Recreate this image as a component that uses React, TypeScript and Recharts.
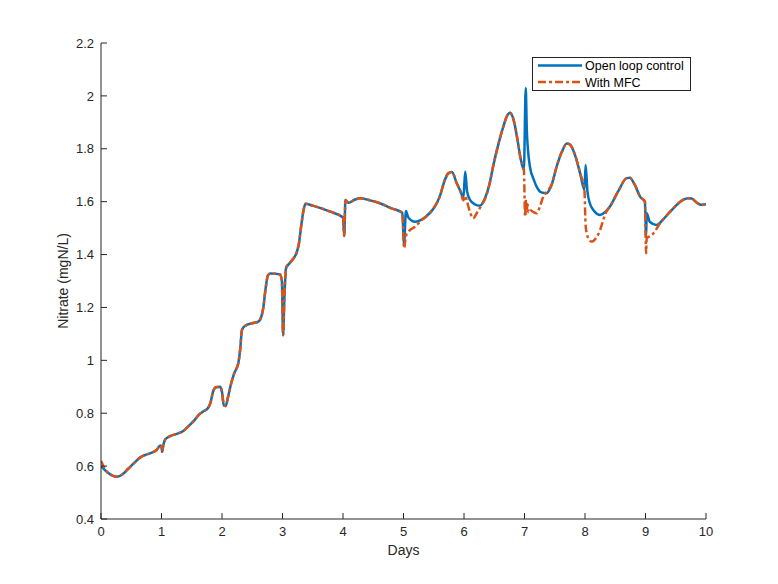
import { CartesianGrid, Label, Legend, Line, LineChart, XAxis, YAxis } from 'recharts';

const dayTicks = [0, 1, 2, 3, 4, 5, 6, 7, 8, 9, 10];
const nitrateTicks = [0.4, 0.6, 0.8, 1, 1.2, 1.4, 1.6, 1.8, 2, 2.2];

const openDays = [
  0, 0.1, 0.2, 0.27, 0.35, 0.45, 0.55, 0.65, 0.73, 0.85, 0.92, 0.98, 1.0, 1.01, 1.03, 1.06, 1.1,
  1.25, 1.36, 1.45, 1.55, 1.62, 1.7, 1.77, 1.81, 1.85, 1.9, 1.97, 2.0, 2.03, 2.06, 2.1, 2.16,
  2.2, 2.27, 2.3, 2.33, 2.38, 2.5, 2.6, 2.65, 2.68, 2.72, 2.76, 2.8, 2.96, 2.99, 3.01, 3.03,
  3.06, 3.12, 3.18, 3.23, 3.27, 3.31, 3.35, 3.38, 3.5, 3.79, 4.0, 4.02, 4.04, 4.09, 4.2, 4.28,
  4.45, 4.61, 4.8, 4.98, 5.01, 5.04, 5.08, 5.19, 5.3, 5.38, 5.5, 5.6, 5.68, 5.74, 5.8, 5.88,
  5.94, 5.99, 6.02, 6.05, 6.1, 6.18, 6.26, 6.35, 6.42, 6.48, 6.56, 6.65, 6.72, 6.76, 6.82,
  6.88, 6.93, 6.99, 7.02, 7.04, 7.09, 7.15, 7.2, 7.28, 7.36, 7.45, 7.53, 7.62, 7.7, 7.75, 7.83,
  7.92, 7.99, 8.01, 8.04, 8.08, 8.15, 8.25, 8.33, 8.41, 8.55, 8.69, 8.74, 8.82, 8.91, 8.99,
  9.01, 9.02, 9.07, 9.18, 9.3, 9.46, 9.6, 9.7, 9.76, 9.85, 9.92, 10,
];
const openNitrate = [
  0.6, 0.578, 0.563, 0.56, 0.568, 0.59, 0.612, 0.633, 0.642, 0.652, 0.661, 0.678, 0.672, 0.654,
  0.68, 0.7, 0.708, 0.722, 0.733, 0.752, 0.775, 0.795, 0.808, 0.82, 0.84, 0.88, 0.898, 0.9, 0.88,
  0.83, 0.827, 0.862, 0.92, 0.95, 0.99, 1.04, 1.115, 1.13, 1.14, 1.146, 1.165, 1.195, 1.27,
  1.322, 1.328, 1.325, 1.3, 1.095, 1.23, 1.35, 1.368, 1.385, 1.405, 1.44, 1.51, 1.57, 1.592,
  1.585, 1.562, 1.54, 1.47, 1.606, 1.596, 1.608, 1.613, 1.605, 1.594, 1.575, 1.558, 1.44, 1.565,
  1.54, 1.524, 1.532, 1.545, 1.575, 1.62, 1.68, 1.707, 1.712, 1.67, 1.64, 1.615, 1.714, 1.64,
  1.607, 1.59, 1.585, 1.615, 1.665, 1.732, 1.81, 1.884, 1.928, 1.936, 1.909, 1.84, 1.77, 1.72,
  2.03, 1.86, 1.732, 1.685, 1.657, 1.635, 1.632, 1.665, 1.732, 1.79, 1.82, 1.816, 1.78, 1.707,
  1.645, 1.739, 1.64, 1.594, 1.565, 1.55, 1.56, 1.581, 1.64, 1.689, 1.69, 1.665, 1.619, 1.6,
  1.468, 1.556, 1.524, 1.512, 1.535, 1.575, 1.604, 1.613, 1.612, 1.596, 1.588, 1.59,
];

const mfcDays = [
  0, 0.03, 0.1, 0.2, 0.27, 0.35, 0.45, 0.55, 0.65, 0.73, 0.85, 0.92, 0.98, 1.0, 1.01, 1.03,
  1.06, 1.1, 1.25, 1.36, 1.45, 1.55, 1.62, 1.7, 1.77, 1.81, 1.85, 1.9, 1.97, 2.0, 2.03, 2.06,
  2.1, 2.16, 2.2, 2.27, 2.3, 2.33, 2.38, 2.5, 2.6, 2.65, 2.68, 2.72, 2.76, 2.8, 2.96, 2.99,
  3.01, 3.03, 3.06, 3.12, 3.18, 3.23, 3.27, 3.31, 3.35, 3.38, 3.5, 3.79, 4.0, 4.02, 4.04, 4.09,
  4.2, 4.28, 4.45, 4.61, 4.8, 4.98, 5.01, 5.04, 5.08, 5.11, 5.19, 5.3, 5.38, 5.5, 5.6, 5.68,
  5.74, 5.8, 5.88, 5.94, 5.99, 6.02, 6.05, 6.1, 6.15, 6.23, 6.3, 6.35, 6.42, 6.48, 6.56, 6.65,
  6.72, 6.76, 6.82, 6.88, 6.93, 6.99, 7.01, 7.02, 7.03, 7.05, 7.07, 7.09, 7.15, 7.2, 7.26,
  7.31, 7.38, 7.45, 7.53, 7.62, 7.7, 7.75, 7.83, 7.92, 7.99, 8.01, 8.03, 8.07, 8.11, 8.18,
  8.25, 8.31, 8.36, 8.41, 8.55, 8.69, 8.74, 8.82, 8.91, 8.99, 9.01, 9.02, 9.08, 9.13, 9.24,
  9.3, 9.46, 9.6, 9.7, 9.76, 9.85, 9.92, 10,
];
const mfcNitrate = [
  0.62, 0.605, 0.578, 0.563, 0.56, 0.568, 0.59, 0.612, 0.633, 0.642, 0.652, 0.661, 0.678, 0.672,
  0.654, 0.68, 0.7, 0.708, 0.722, 0.733, 0.752, 0.775, 0.795, 0.808, 0.82, 0.84, 0.88, 0.898,
  0.9, 0.88, 0.83, 0.827, 0.862, 0.92, 0.95, 0.99, 1.04, 1.115, 1.13, 1.14, 1.146, 1.165, 1.195,
  1.27, 1.322, 1.328, 1.325, 1.3, 1.095, 1.23, 1.35, 1.368, 1.385, 1.405, 1.44, 1.51, 1.57,
  1.592, 1.585, 1.562, 1.54, 1.47, 1.606, 1.596, 1.608, 1.613, 1.605, 1.594, 1.575, 1.558,
  1.424, 1.47, 1.485, 1.493, 1.505, 1.53, 1.545, 1.575, 1.62, 1.68, 1.707, 1.712, 1.67, 1.64,
  1.605, 1.622, 1.6, 1.56, 1.537, 1.565, 1.59, 1.612, 1.665, 1.732, 1.81, 1.884, 1.928, 1.936,
  1.909, 1.84, 1.77, 1.72, 1.543, 1.61, 1.555, 1.59, 1.56, 1.569, 1.56, 1.556, 1.585, 1.619,
  1.64, 1.665, 1.732, 1.79, 1.82, 1.816, 1.78, 1.707, 1.645, 1.51, 1.48, 1.455, 1.449, 1.462,
  1.493, 1.537, 1.565, 1.581, 1.64, 1.689, 1.69, 1.665, 1.619, 1.6, 1.405, 1.462, 1.47, 1.48,
  1.518, 1.535, 1.575, 1.604, 1.613, 1.612, 1.596, 1.588, 1.59,
];

const openData = openDays.map((day, i) => ({ day, value: openNitrate[i] }));
const mfcData = mfcDays.map((day, i) => ({ day, value: mfcNitrate[i] }));

const AXIS_COLOR = '#262626';
const FONT = '"Liberation Sans", Arial, Helvetica, sans-serif';
const BLUE = '#0072BD';
const ORANGE = '#D95319';
const X_MARGIN = 8;
const Y_MARGIN = 7;

function formatTick(v: number): string {
  return String(Number(v.toFixed(1)));
}

function XTick(props: any) {
  const { x, y, payload } = props;
  const axisY = y - X_MARGIN;
  return (
    <g>
      <line x1={x} x2={x} y1={axisY} y2={axisY - 6} stroke={AXIS_COLOR} strokeWidth={1} />
      <text x={x} y={y} dy="0.72em" textAnchor="middle" fill={AXIS_COLOR} fontSize={13} fontFamily={FONT}>
        {formatTick(payload.value)}
      </text>
    </g>
  );
}

function YTick(props: any) {
  const { x, y, payload } = props;
  const axisX = x + Y_MARGIN;
  return (
    <g>
      <line x1={axisX} x2={axisX + 6} y1={y} y2={y} stroke={AXIS_COLOR} strokeWidth={1} />
      <text x={x} y={y} dy="0.36em" textAnchor="end" fill={AXIS_COLOR} fontSize={13} fontFamily={FONT}>
        {formatTick(payload.value)}
      </text>
    </g>
  );
}

function LegendBox() {
  return (
    <svg width={159} height={34} style={{ display: 'block' }}>
      <rect x={0.5} y={0.5} width={158} height={33} fill="#fff" stroke={AXIS_COLOR} strokeWidth={1} />
      <line x1={6} x2={50} y1={8.5} y2={8.5} stroke={BLUE} strokeWidth={2.5} />
      <line x1={6} x2={50} y1={25} y2={25} stroke={ORANGE} strokeWidth={2.5} strokeDasharray="8 3 3 3" />
      <text x={53} y={8.5} dy="0.36em" fontSize={12.5} fontFamily={FONT} fill="#000">
        Open loop control
      </text>
      <text x={53} y={25} dy="0.36em" fontSize={12.5} fontFamily={FONT} fill="#000">
        With MFC
      </text>
    </svg>
  );
}

export default function App() {
  return (
    <div style={{ position: 'absolute', left: 0, top: 0, width: 778, height: 584, background: '#fff' }}>
      <LineChart width={778} height={584} margin={{ top: 43, right: 72, left: 51, bottom: 35 }}>
        <CartesianGrid stroke="none" fill="#fff" />
        <XAxis
          type="number"
          dataKey="day"
          domain={[0, 10]}
          ticks={dayTicks}
          interval={0}
          height={30}
          tickSize={0}
          tickMargin={X_MARGIN}
          tickLine={false}
          tick={<XTick />}
          axisLine={{ stroke: AXIS_COLOR, strokeWidth: 1 }}
          allowDataOverflow
        >
          <Label
            content={({ viewBox }: any) => (
              <text
                x={viewBox.x + viewBox.width / 2}
                y={viewBox.y + 31}
                dy="0.36em"
                textAnchor="middle"
                fontSize={14}
                fontFamily={FONT}
                fill={AXIS_COLOR}
              >
                Days
              </text>
            )}
          />
        </XAxis>
        <YAxis
          type="number"
          domain={[0.4, 2.2]}
          ticks={nitrateTicks}
          interval={0}
          width={50}
          tickSize={0}
          tickMargin={Y_MARGIN}
          tickLine={false}
          tick={<YTick />}
          axisLine={{ stroke: AXIS_COLOR, strokeWidth: 1 }}
          allowDataOverflow
        >
          <Label
            content={({ viewBox }: any) => {
              const cx = viewBox.x + 12;
              const cy = viewBox.y + viewBox.height / 2;
              return (
                <text
                  x={cx}
                  y={cy}
                  dy="0.36em"
                  textAnchor="middle"
                  fontSize={14}
                  fontFamily={FONT}
                  fill={AXIS_COLOR}
                  transform={`rotate(-90 ${cx} ${cy})`}
                >
                  Nitrate (mgN/L)
                </text>
              );
            }}
          />
        </YAxis>
        <Line
          data={openData}
          dataKey="value"
          name="Open loop control"
          type="monotone"
          stroke={BLUE}
          strokeWidth={2.5}
          dot={false}
          activeDot={false}
          isAnimationActive={false}
        />
        <Line
          data={mfcData}
          dataKey="value"
          name="With MFC"
          type="monotone"
          stroke={ORANGE}
          strokeWidth={2.5}
          strokeDasharray="8 3 3 3"
          dot={false}
          activeDot={false}
          isAnimationActive={false}
        />
        <Legend
          layout="vertical"
          align="center"
          verticalAlign="middle"
          content={() => <LegendBox />}
          wrapperStyle={{ position: 'absolute', left: 532, top: 57, width: 159, height: 34 }}
        />
      </LineChart>
    </div>
  );
}
